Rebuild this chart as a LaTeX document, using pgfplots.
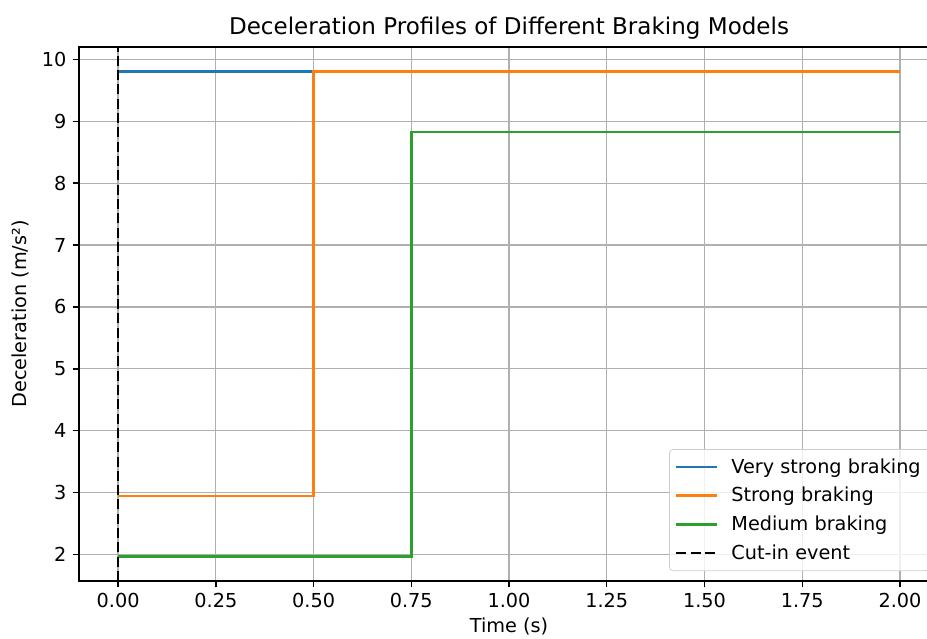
\documentclass[border=0pt]{standalone}
\usepackage{fontspec}
\setmainfont{DejaVu Sans}
\usepackage{pgfplots}
\pgfplotsset{compat=1.18}
\definecolor{c0}{HTML}{1F77B4}
\definecolor{c1}{HTML}{FF7F0E}
\definecolor{c2}{HTML}{2CA02C}
\definecolor{gridc}{HTML}{B0B0B0}
\begin{document}
\begin{tikzpicture}
\path[clip,use as bounding box] (-43.9pt,-32.2pt) rectangle (471.1pt,322.8pt);
\begin{axis}[
  at={(0,0)}, anchor=south west,
  scale only axis, width=477.8pt, height=296.7pt,
  xmin=-0.1, xmax=2.1, ymin=1.570, ymax=10.202,
  xtick={0,0.25,...,2.0}, ytick={2,3,...,10},
  xticklabel style={/pgf/number format/.cd,fixed,fixed zerofill,precision=2},
  /pgf/number format/assume math mode=true,
  tick label style={font=\fontsize{10.7}{12.8}\selectfont},
  label style={font=\fontsize{10.7}{12.8}\selectfont},
  title style={font=\fontsize{12.8}{15}\selectfont, yshift=-5pt},
  title={Deceleration Profiles of Different Braking Models},
  xlabel={Time (s)}, ylabel={Deceleration (m/s²)},
  xlabel style={yshift=1.5pt},
  grid=major, major grid style={gridc, line width=0.7pt},
  axis line style={line width=0.8pt},
  tick align=outside, tick pos=left, major tick length=3.5pt,
  every tick/.style={black, line width=0.8pt},
  legend cell align=left,
  legend style={at={(rel axis cs:1,0)}, anchor=south east, xshift=-5pt, yshift=5.5pt,
    draw=black!20, rounded corners=2pt, fill=white, fill opacity=0.8, text opacity=1,
    font=\fontsize{10.7}{12.8}\selectfont, inner xsep=3pt, inner ysep=3pt, row sep=2.3pt, column sep=5pt},
  legend image post style={xscale=1.34},
]
\addplot[c0, line width=1.5pt] coordinates {(0,9.81) (2,9.81)};
\addlegendentry{Very strong braking}
\addplot[c1, line width=1.5pt] coordinates {(0,2.943) (0.5,2.943) (0.5,9.81) (2,9.81)};
\addlegendentry{Strong braking}
\addplot[c2, line width=1.5pt] coordinates {(0,1.962) (0.75,1.962) (0.75,8.829) (2,8.829)};
\addlegendentry{Medium braking}
\addplot[black, line width=1.5pt, dash pattern=on 5.55pt off 2.4pt] coordinates {(0,1.570) (0,10.202)};
\addlegendentry{Cut-in event}
\end{axis}
\end{tikzpicture}
\end{document}
